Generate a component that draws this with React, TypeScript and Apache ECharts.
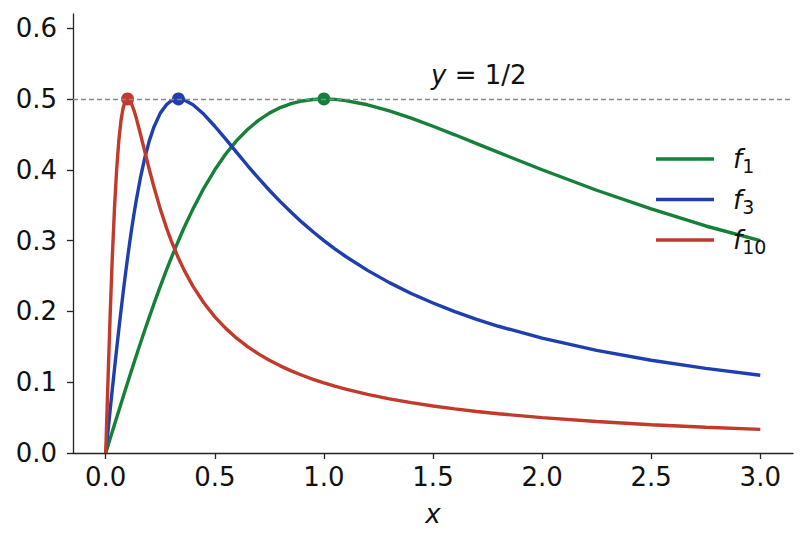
import React, { useEffect, useRef } from "react";
import * as echarts from "echarts";

// x grid shared by the three curves
const xs = [
  0, 0.01, 0.02, 0.03, 0.04, 0.05, 0.06, 0.07, 0.08, 0.09, 0.1, 0.11, 0.12, 0.13, 0.14, 0.16, 0.18, 0.2,
  0.22, 0.25, 0.28, 0.3, 0.333, 0.36, 0.4, 0.45, 0.5, 0.55, 0.6, 0.65, 0.7, 0.75, 0.8, 0.85, 0.9, 0.95, 1.0,
  1.05, 1.1, 1.2, 1.3, 1.4, 1.5, 1.6, 1.7, 1.8, 2.0, 2.25, 2.5, 2.75, 3.0,
];

const f1 = [
  0, 0.01, 0.02, 0.03, 0.04, 0.0499, 0.0598, 0.0697, 0.0795, 0.0893, 0.099, 0.1087, 0.1183, 0.1278, 0.1373,
  0.156, 0.1744, 0.1923, 0.2098, 0.2353, 0.2596, 0.2752, 0.2997, 0.3188, 0.3448, 0.3742, 0.4, 0.4223, 0.4412,
  0.4569, 0.4698, 0.48, 0.4878, 0.4935, 0.4972, 0.4993, 0.5, 0.4994, 0.4977, 0.4918, 0.4833, 0.473, 0.4615,
  0.4494, 0.437, 0.4245, 0.4, 0.3711, 0.3448, 0.3206, 0.3,
];

const f3 = [
  0, 0.03, 0.0598, 0.0893, 0.1183, 0.1467, 0.1744, 0.2011, 0.2269, 0.2517, 0.2752, 0.2976, 0.3187, 0.3385,
  0.357, 0.3901, 0.4181, 0.4412, 0.4597, 0.48, 0.4925, 0.4972, 0.5, 0.4985, 0.4918, 0.4783, 0.4615, 0.4433,
  0.4245, 0.406, 0.3882, 0.3711, 0.355, 0.3399, 0.3257, 0.3124, 0.3, 0.2884, 0.2775, 0.2579, 0.2406, 0.2253,
  0.2118, 0.1997, 0.1888, 0.179, 0.1622, 0.145, 0.131, 0.1195, 0.1098,
];

const f10 = [
  0, 0.099, 0.1923, 0.2752, 0.3448, 0.4, 0.4412, 0.4698, 0.4878, 0.4972, 0.5, 0.4977, 0.4918, 0.4833, 0.473,
  0.4494, 0.4245, 0.4, 0.3767, 0.3448, 0.3167, 0.3, 0.2754, 0.2579, 0.2353, 0.2118, 0.1923, 0.176, 0.1622,
  0.1503, 0.14, 0.131, 0.1231, 0.116, 0.1098, 0.1041, 0.099, 0.0944, 0.0902, 0.0828, 0.0765, 0.0711, 0.0664,
  0.0623, 0.0586, 0.0554, 0.0499, 0.0444, 0.0399, 0.0363, 0.0333,
];

// maxima (1/n, 1/2)
const peaks = [
  { name: "f1", x: 1, y: 0.5 },
  { name: "f3", x: 0.3333, y: 0.5 },
  { name: "f10", x: 0.1, y: 0.5 },
];

const xTicks = [0, 0.5, 1, 1.5, 2, 2.5, 3];
const yTicks = [0, 0.1, 0.2, 0.3, 0.4, 0.5, 0.6];

const colors: Record<string, string> = { f1: "#168039", f3: "#1f3fae", f10: "#c13a2c" };
const FONT = "DejaVu Sans";

const App: React.FC = () => {
  const chartRef = useRef<HTMLDivElement | null>(null);

  useEffect(() => {
    if (!chartRef.current) return;
    const chart = echarts.init(chartRef.current, null, { renderer: "svg" });

    const curves: Record<string, number[]> = { f1, f3, f10 };
    const lineSeries = Object.keys(curves).map((name) => ({
      name,
      type: "line",
      data: xs.map((x, i) => [x, curves[name][i]]),
      symbol: "none",
      lineStyle: { width: 3.4, color: colors[name] },
      itemStyle: { color: colors[name] },
      z: 3,
    }));

    const peakSeries = peaks.map((p) => ({
      name: p.name + "_peak",
      type: "scatter",
      data: [[p.x, p.y]],
      symbolSize: 13,
      itemStyle: { color: colors[p.name], opacity: 1 },
      z: 4,
    }));

    const axisLine = { lineStyle: { color: "#222", width: 1.3 } };

    chart.setOption({
      animation: false,
      textStyle: { fontFamily: FONT },
      grid: { left: 73, right: 15, top: 14, bottom: 92, outerBoundsMode: "none", containLabel: false },
      xAxis: {
        type: "value",
        min: -0.15,
        max: 3.15,
        axisLine: { ...axisLine, onZero: false },
        splitLine: { show: false },
        axisTick: { show: true, length: 6, lineStyle: { color: "#222", width: 1.3 }, customValues: xTicks },
        axisLabel: {
          customValues: xTicks,
          formatter: (v: number) => v.toFixed(1),
          fontSize: 26,
          color: "#111",
          margin: 11,
          fontFamily: FONT,
        },
        name: "x",
        nameLocation: "middle",
        nameGap: 48,
        nameTextStyle: { fontSize: 26, fontStyle: "italic", color: "#111", fontFamily: FONT },
      },
      yAxis: {
        type: "value",
        min: 0,
        max: 0.62,
        axisLine: { show: true, onZero: false, ...axisLine },
        splitLine: { show: false },
        axisTick: { show: true, length: 6, lineStyle: { color: "#222", width: 1.3 }, customValues: yTicks },
        axisLabel: {
          customValues: yTicks,
          formatter: (v: number) => v.toFixed(1),
          fontSize: 26,
          color: "#111",
          margin: 16,
          fontFamily: FONT,
        },
      },
      legend: {
        data: ["f1", "f3", "f10"],
        orient: "vertical",
        left: 656,
        top: 146,
        padding: 0,
        itemWidth: 58,
        itemHeight: 3.6,
        itemGap: 11,
        icon: "rect",
        formatter: (name: string) => `{f|f}{s|${name.slice(1)}}`,
        textStyle: {
          fontFamily: FONT,
          padding: [0, 0, 0, 14],
          rich: {
            f: { fontSize: 26, fontStyle: "italic", color: "#111", lineHeight: 33, verticalAlign: "middle", fontFamily: FONT },
            s: { fontSize: 19, color: "#111", lineHeight: 16, verticalAlign: "bottom", fontFamily: FONT },
          },
        },
        selectedMode: false,
      },
      graphic: [
        {
          type: "text",
          left: 431,
          top: 62,
          style: {
            text: "{i|y} = 1/2",
            rich: {
              i: { fontStyle: "italic", fontSize: 26, fill: "#111", fontFamily: FONT },
            },
            fontSize: 26,
            fill: "#111",
            fontFamily: FONT,
          },
        },
      ],
      series: [
        ...lineSeries,
        ...peakSeries,
        {
          name: "half",
          type: "line",
          data: [],
          markLine: {
            silent: true,
            symbol: "none",
            label: { show: false },
            lineStyle: { color: "#888", type: [5, 3], width: 1.3 },
            data: [{ yAxis: 0.5 }],
          },
        },
      ],
    });

    return () => {
      chart.dispose();
    };
  }, []);

  return (
    <div
      ref={chartRef}
      style={{ position: "absolute", left: 0, top: 0, width: "808px", height: "545px" }}
    ></div>
  );
};

export default App;
